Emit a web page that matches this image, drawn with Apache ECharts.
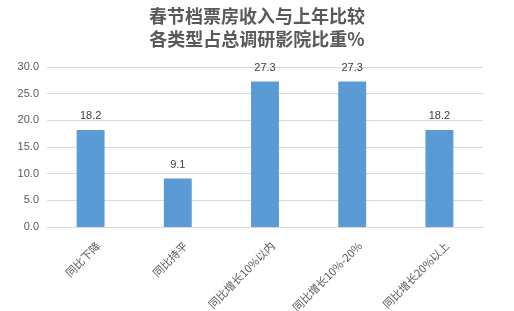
<!DOCTYPE html>
<html>
<head>
<meta charset="utf-8">
<script src="https://cdn.jsdelivr.net/npm/echarts@6/dist/echarts.min.js"></script>
<style>
  html, body { margin: 0; padding: 0; background: #fff; }
  #chart { width: 514px; height: 311px; }
</style>
</head>
<body>
<div id="chart"></div>
<script>
// Share of surveyed cinemas by Spring Festival box-office change vs. last year
const categories = ['同比下降', '同比持平', '同比增长10%以内', '同比增长10%-20%', '同比增长20%以上'];
const shares = [18.2, 9.1, 27.3, 27.3, 18.2];
const yTicks = { min: 0, max: 30, interval: 5 };

const chart = echarts.init(document.getElementById('chart'), null, { renderer: 'canvas' });
chart.setOption({
  animation: false,
  backgroundColor: '#ffffff',
  title: {
    text: '春节档票房收入与上年比较\n各类型占总调研影院比重%',
    left: 'center',
    top: 0,
    textStyle: {
      fontFamily: '"Noto Sans CJK SC", sans-serif',
      fontSize: 18,
      fontWeight: 'bold',
      color: '#595959',
      lineHeight: 23
    }
  },
  grid: { left: 47, right: 31, top: 67, bottom: 84, containLabel: false, outerBoundsMode: 'none' },
  xAxis: {
    type: 'category',
    data: categories,
    axisLine: { show: true, lineStyle: { color: '#d9d9d9' } },
    axisTick: { show: false },
    axisLabel: {
      rotate: 45,
      interval: 0,
      margin: 9,
      verticalAlign: 'top',
      lineHeight: 22,
      color: '#595959',
      fontSize: 11,
      fontFamily: '"Noto Sans CJK SC", sans-serif'
    }
  },
  yAxis: {
    type: 'value',
    min: yTicks.min,
    max: yTicks.max,
    interval: yTicks.interval,
    axisLine: { show: false },
    axisTick: { show: false },
    splitLine: { lineStyle: { color: '#d9d9d9' } },
    axisLabel: {
      formatter: v => v.toFixed(1),
      color: '#595959',
      fontSize: 11,
      margin: 8,
      fontFamily: 'Arial, "Liberation Sans", sans-serif'
    }
  },
  series: [{
    type: 'bar',
    data: shares,
    barWidth: '32%',
    itemStyle: { color: '#5b9bd5' },
    label: {
      show: true,
      position: 'top',
      distance: 8,
      formatter: p => p.value.toFixed(1),
      color: '#404040',
      fontSize: 11,
      fontFamily: 'Arial, "Liberation Sans", sans-serif'
    }
  }]
});
</script>
</body>
</html>
